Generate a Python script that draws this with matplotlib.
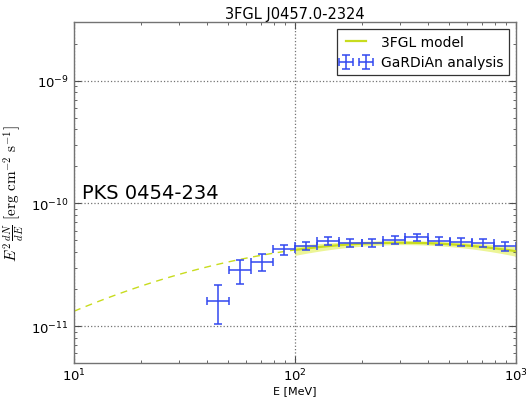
import matplotlib
matplotlib.use("Agg")
import matplotlib.pyplot as plt
import numpy as np

# GaRDiAn analysis points
e_lo = [39.8, 50.1, 63.1, 79.4, 100, 126, 158, 200, 251, 316, 398, 501, 631, 794]
e_hi = [50.1, 63.1, 79.4, 100, 126, 158, 200, 251, 316, 398, 501, 631, 794, 1000]
e_mid = [44.7, 56.2, 70.8, 89.1, 112, 141, 178, 224, 282, 355, 447, 562, 708, 891]
flux = [1.60e-11, 2.84e-11, 3.30e-11, 4.21e-11, 4.47e-11, 4.91e-11, 4.78e-11,
        4.75e-11, 5.03e-11, 5.29e-11, 4.94e-11, 4.88e-11, 4.75e-11, 4.45e-11]
flux_lo = [1.04e-11, 2.21e-11, 2.79e-11, 3.80e-11, 4.15e-11, 4.55e-11, 4.42e-11,
           4.40e-11, 4.68e-11, 4.95e-11, 4.60e-11, 4.53e-11, 4.40e-11, 4.12e-11]
flux_hi = [2.17e-11, 3.48e-11, 3.85e-11, 4.61e-11, 4.82e-11, 5.28e-11, 5.15e-11,
           5.12e-11, 5.40e-11, 5.65e-11, 5.30e-11, 5.25e-11, 5.12e-11, 4.80e-11]

# 3FGL model curve (dashed below 100 MeV, solid + band above)
model_e_ext = [10, 15, 20, 30, 50, 70, 100]
model_ext = [1.32e-11, 1.76e-11, 2.11e-11, 2.64e-11, 3.33e-11, 3.77e-11, 4.17e-11]
model_e = [100, 150, 200, 300, 500, 700, 1000]
model = [4.17e-11, 4.52e-11, 4.69e-11, 4.77e-11, 4.64e-11, 4.42e-11, 4.07e-11]
model_lo = [3.75e-11, 4.25e-11, 4.50e-11, 4.60e-11, 4.43e-11, 4.12e-11, 3.72e-11]
model_hi = [4.55e-11, 4.78e-11, 4.88e-11, 4.95e-11, 4.86e-11, 4.72e-11, 4.42e-11]

plt.rcParams["mathtext.fontset"] = "cm"
plt.rcParams["font.family"] = "DejaVu Sans"

fig = plt.figure(figsize=(5.26, 4.06), dpi=100)
ax = fig.add_axes([0.1407, 0.1034, 0.8403, 0.8399])

yc = "#c8dc1e"


def smooth(x, y):
    lx = np.log10(x)
    ly = np.log10(y)
    xs = np.linspace(lx[0], lx[-1], 100)
    coef = np.polyfit(lx, ly, 2)
    return 10 ** xs, 10 ** np.polyval(coef, xs)


xs, ys = smooth(model_e_ext, model_ext)
ax.plot(xs, ys, color=yc, lw=1.0, dashes=(5, 4))
xs, ys = smooth(model_e, model)
_, ylo = smooth(model_e, model_lo)
_, yhi = smooth(model_e, model_hi)
ax.fill_between(xs, ylo, yhi, color="#ecf596", lw=0)
ax.plot(xs, ys, color=yc, lw=1.6, label="3FGL model")

e_mid_a = np.array(e_mid)
flux_a = np.array(flux)
xerr = [e_mid_a - np.array(e_lo), np.array(e_hi) - e_mid_a]
yerr = [flux_a - np.array(flux_lo), np.array(flux_hi) - flux_a]
ax.errorbar(e_mid, flux, xerr=xerr, yerr=yerr, fmt="none", ecolor="#3348f0",
            elinewidth=1.3, capsize=3, capthick=1.3, alpha=0.85,
            label="GaRDiAn analysis")

ax.set_xscale("log")
ax.set_yscale("log")
ax.set_xlim(10, 1000)
ax.set_ylim(5e-12, 3e-9)
ax.grid(True, which="major", ls=":", color="0.45", lw=0.9)
ax.tick_params(which="both", direction="in", top=True, right=True,
               labelsize=9.5, color="0.3")
ax.tick_params(which="major", length=5)
ax.tick_params(which="minor", length=2.5)
ax.tick_params(axis="x", pad=3)
for s in ax.spines.values():
    s.set_color("0.45")
    s.set_linewidth(1.0)

ax.set_title("3FGL J0457.0-2324", fontsize=10.5, pad=3)
ax.set_xlabel("E [MeV]", fontsize=8, labelpad=1)
ax.set_ylabel(r"$E^2\,\frac{dN}{dE}\ [\mathrm{erg\ cm^{-2}\ s^{-1}}]$", fontsize=11)
ax.text(0.018, 0.50, "PKS 0454-234", transform=ax.transAxes, fontsize=14,
        va="center")

leg = ax.legend(loc="upper right", numpoints=2, fontsize=10, fancybox=False,
                framealpha=1, edgecolor="0.2", borderaxespad=0.5,
                handlelength=2.0)
leg.get_frame().set_linewidth(0.9)

fig.savefig("out.png", dpi=100)
